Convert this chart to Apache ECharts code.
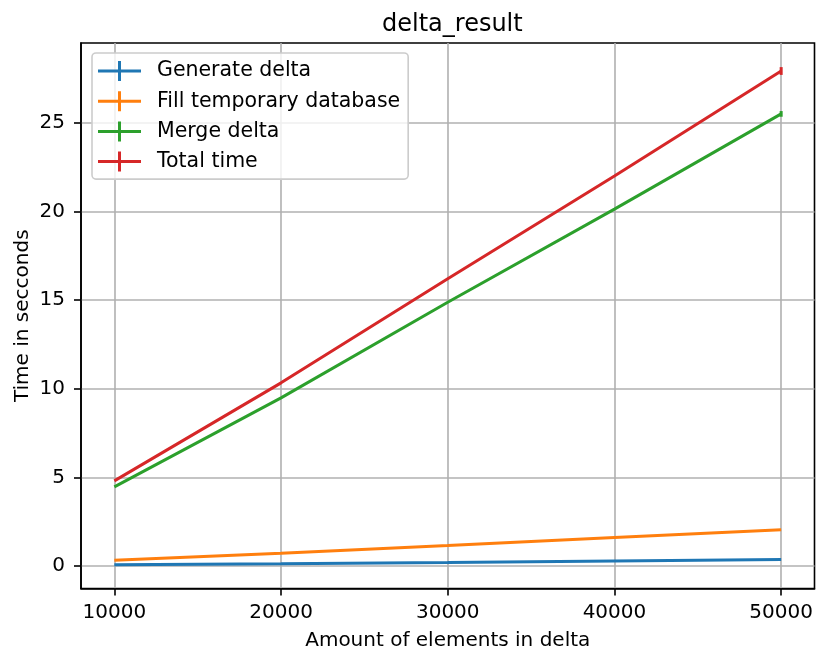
<!DOCTYPE html>
<html>
<head>
<meta charset="utf-8">
<script src="https://cdn.jsdelivr.net/npm/echarts@6/dist/echarts.min.js"></script>
<style>
html,body{margin:0;padding:0;background:#fff;}
#chart{width:816px;height:653px;}
</style>
</head>
<body>
<div id="chart"></div>
<script>
const xValues = [10000, 20000, 30000, 40000, 50000];
const generateDelta = [0.07, 0.13, 0.20, 0.28, 0.36];
const fillTempDb = [0.32, 0.72, 1.15, 1.60, 2.05];
const mergeDelta = [4.46, 9.48, 14.88, 20.13, 25.50];
const totalTime = [4.80, 10.33, 16.20, 22.00, 27.92];
const generateErr = [0, 0, 0, 0, 0];
const fillErr = [0, 0, 0, 0, 0];
const mergeErr = [0, 0, 0, 0, 0.16];
const totalErr = [0, 0, 0, 0, 0.22];
const xTicks = [10000, 20000, 30000, 40000, 50000];
const yTicks = [0, 5, 10, 15, 20, 25];

const names = ['Generate delta', 'Fill temporary database', 'Merge delta', 'Total time'];
const colors = ['#1f77b4', '#ff7f0e', '#2ca02c', '#d62728'];
const values = [generateDelta, fillTempDb, mergeDelta, totalTime];
const errs = [generateErr, fillErr, mergeErr, totalErr];

const FONT = 'DejaVu Sans';
const plusIcon = 'path://M0,8.5H43V11.5H0Z M20,0H23V20H20Z M53.9,9.95H54V10.05H53.9Z';

const series = [];
names.forEach((n, i) => {
  series.push({
    name: n,
    type: 'line',
    data: xValues.map((x, j) => [x, values[i][j]]),
    showSymbol: false,
    symbol: 'none',
    lineStyle: { color: colors[i], width: 3 },
    itemStyle: { color: colors[i] },
    z: 3 + i
  });
  series.push({
    name: n + ' err',
    type: 'custom',
    data: xValues.map((x, j) => [x, values[i][j], errs[i][j]]),
    z: 3 + i,
    renderItem: (params, api) => {
      const x = api.value(0), y = api.value(1), e = api.value(2);
      if (!e) return null;
      const a = api.coord([x, y + e]);
      const b = api.coord([x, y - e]);
      return { type: 'line', shape: { x1: a[0], y1: a[1], x2: b[0], y2: b[1] },
               style: { stroke: colors[i], lineWidth: 3 } };
    }
  });
});

const chart = echarts.init(document.getElementById('chart'), null, { renderer: 'canvas' });
chart.setOption({
  animation: false,
  backgroundColor: '#ffffff',
  textStyle: { fontFamily: FONT },
  title: {
    text: 'delta_result',
    left: 377,
    top: 8,
    textStyle: { fontFamily: FONT, fontSize: 24, fontWeight: 'normal', color: '#000' }
  },
  grid: {
    left: 81, right: 1.5, top: 43, bottom: 64.5,
    show: true, borderColor: '#000', borderWidth: 1.6, backgroundColor: '#fff',
    outerBoundsMode: 'none', containLabel: false
  },
  legend: {
    orient: 'vertical',
    left: 92, top: 53,
    padding: [7.5, 8, 7, 6],
    itemWidth: 54, itemHeight: 20, itemGap: 9.2,
    icon: plusIcon,
    data: names.map((n, i) => ({ name: n, icon: plusIcon, itemStyle: { color: colors[i], borderWidth: 0 } })),
    backgroundColor: 'rgba(255,255,255,0.8)',
    borderColor: '#cccccc', borderWidth: 1.6, borderRadius: 4,
    textStyle: { fontFamily: FONT, fontSize: 20.5, lineHeight: 20, color: '#000' },
    z: 20
  },
  xAxis: {
    type: 'value',
    min: 8000, max: 52000,
    name: 'Amount of elements in delta',
    nameLocation: 'middle', nameGap: 42, nameMoveOverlap: false,
    nameTextStyle: { fontFamily: FONT, fontSize: 20, color: '#000' },
    axisLine: { show: true, onZero: false, lineStyle: { color: '#000', width: 1.6 } },
    axisTick: { show: true, length: 7, lineStyle: { color: '#000', width: 1.6 }, customValues: xTicks },
    axisLabel: { fontFamily: FONT, fontSize: 20, color: '#000', margin: 14, customValues: xTicks, formatter: v => String(v) },
    splitLine: { show: true, lineStyle: { color: '#b0b0b0', width: 1.6 } }
  },
  yAxis: {
    type: 'value',
    min: -1.27, max: 29.5,
    name: 'Time in secconds',
    nameLocation: 'middle', nameGap: 48, nameMoveOverlap: false,
    nameTextStyle: { fontFamily: FONT, fontSize: 20, color: '#000' },
    axisLine: { show: true, onZero: false, lineStyle: { color: '#000', width: 1.6 } },
    axisTick: { show: true, length: 7, lineStyle: { color: '#000', width: 1.6 }, customValues: yTicks },
    axisLabel: { fontFamily: FONT, fontSize: 20, color: '#000', margin: 16, customValues: yTicks, formatter: v => String(v) },
    splitLine: { show: true, lineStyle: { color: '#b0b0b0', width: 1.6 } }
  },
  series: series
});
</script>
</body>
</html>
